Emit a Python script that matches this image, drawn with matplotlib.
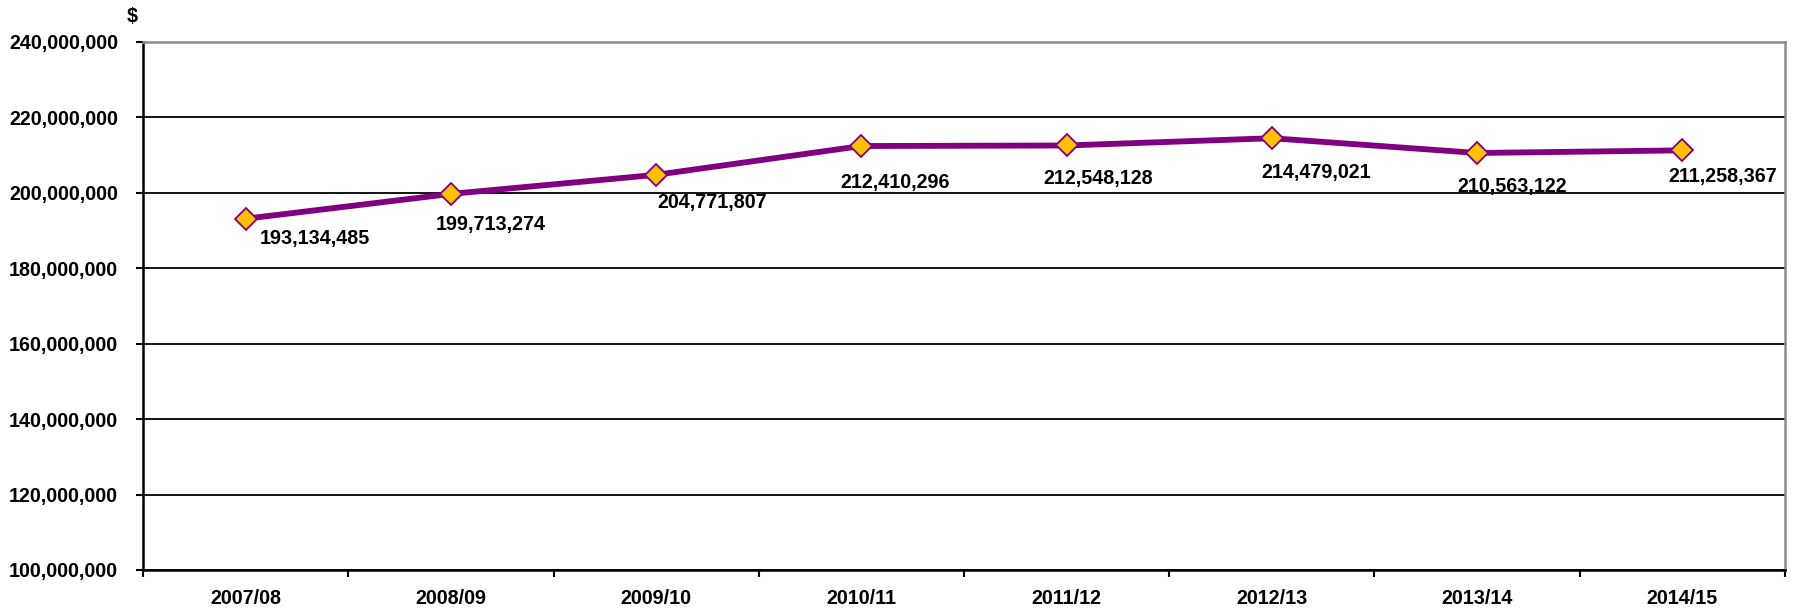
import numpy as np
import matplotlib.pyplot as plt
from matplotlib.ticker import FuncFormatter, MultipleLocator

plt.rcParams['font.family'] = ['Liberation Sans', 'DejaVu Sans']
plt.rcParams['font.weight'] = 'bold'

years = ['2007/08', '2008/09', '2009/10', '2010/11', '2011/12', '2012/13', '2013/14', '2014/15']
values = [193134485, 199713274, 204771807, 212410296, 212548128, 214479021, 210563122, 211258367]

# label offsets in points (hand placed in the original)
lab_dx = [50, 29, 40, 24, 23, 32, 25, 29]
lab_dy = [-14, -22, -20, -26, -24, -25, -24, -19]

fig = plt.figure(figsize=(17.95, 6.08), dpi=100)
ax = fig.add_axes([0.0797, 0.0625, 0.9147, 0.8685])

x = np.arange(len(years))
ax.plot(x, values, color='#800080', lw=4.2, marker='D', ms=11,
        mfc='#FFC000', mec='#800080', mew=1.3, zorder=3)

for i in range(len(values)):
    ax.annotate(f'{values[i]:,}', xy=(x[i], values[i]), xytext=(lab_dx[i], lab_dy[i]),
                textcoords='offset points', ha='center', va='center',
                fontsize=14.2, fontweight='bold', zorder=4)

ax.set_xlim(-0.5, len(years) - 0.5)
ax.set_ylim(100000000, 240000000)
ax.yaxis.set_major_locator(MultipleLocator(20000000))
ax.yaxis.set_major_formatter(FuncFormatter(lambda v, p: f'{int(v):,}'))
ax.yaxis.grid(True, color='black', lw=1.3)
ax.set_axisbelow(True)

ax.set_xticks(np.arange(-0.5, len(years), 1))
ax.set_xticklabels([])
ax.set_xticks(x, minor=True)
ax.set_xticklabels(years, minor=True)
ax.tick_params(axis='x', which='major', direction='out', length=5, width=1.5, color='black')
ax.tick_params(axis='x', which='minor', length=0, pad=14, labelsize=14.2)
ax.tick_params(axis='y', direction='out', length=5, width=1.5, pad=13, labelsize=14.2)

for s in ['left', 'bottom']:
    ax.spines[s].set_color('black')
    ax.spines[s].set_linewidth(1.8)
for s in ['top', 'right']:
    ax.spines[s].set_color('#8c8c8c')
    ax.spines[s].set_linewidth(1.8)

fig.text(132 / 1795, 1 - 16 / 608, '$', ha='center', va='center', fontsize=14.2, fontweight='bold')

plt.savefig('out.png')
